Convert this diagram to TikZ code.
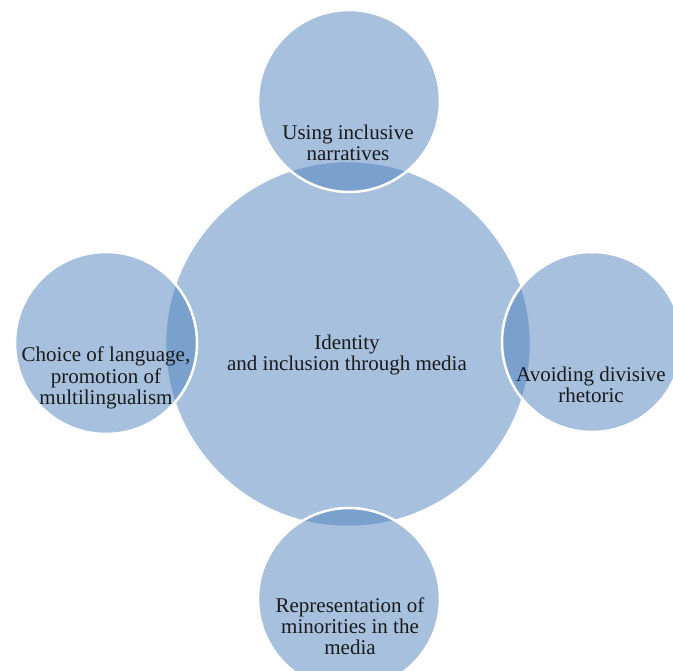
\documentclass[tikz,border=0pt]{standalone}
\usepackage{fontspec}
\setmainfont{Liberation Serif}
\definecolor{vennblue}{HTML}{4F81BD}
\definecolor{txt}{HTML}{1A1A1A}
\begin{document}
\begin{tikzpicture}[x=1pt,y=-1pt,
  venn/.style={circle, inner sep=0pt, fill=vennblue, fill opacity=0.5, draw=white, draw opacity=1, line width=2.5pt},
  lbl/.style={inner sep=0pt, align=center, text=txt, font=\fontsize{21}{21}\selectfont}]
\useasboundingbox (0,0) rectangle (673,671);
\clip (0,0) rectangle (673,671);
\node[venn, minimum size=366pt] (hub) at (348,344) {};
\node[venn, minimum size=182pt] (top) at (349,101) {};
\node[venn, minimum size=182pt] (left) at (106,343) {};
\node[venn, minimum size=180pt] (right) at (592,342) {};
\node[venn, minimum size=182pt] (bottom) at (349,599) {};
\node[lbl] (hubt) at (347,355.8) {\strut Identity\\\strut and inclusion through media};
\node[lbl] (topt) at (348,145.8) {\strut Using inclusive\\\strut narratives};
\node[lbl] (leftt) at (106,378.8) {\strut Choice of language,\\\strut promotion of\\\strut multilingualism};
\node[lbl] (rightt) at (591,387.8) {\strut Avoiding divisive\\\strut rhetoric};
\node[lbl] (bottomt) at (350,628.8) {\strut Representation of\\\strut minorities in the\\\strut media};
\end{tikzpicture}
\end{document}
